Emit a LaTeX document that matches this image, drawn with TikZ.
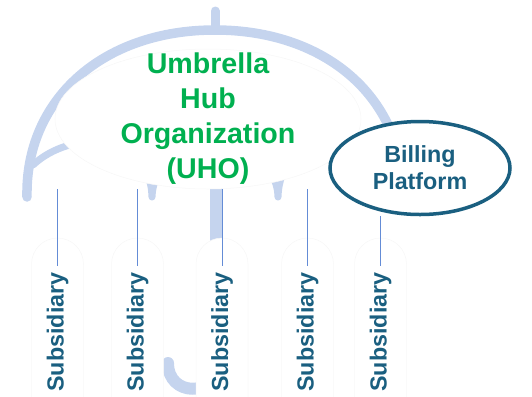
\documentclass[tikz,border=0pt]{standalone}
\usepackage{fontspec}
\setmainfont{Liberation Sans}
\usetikzlibrary{shapes}
\definecolor{umbrellablue}{RGB}{197,212,238}
\definecolor{hubgreen}{RGB}{0,176,80}
\definecolor{tealdark}{RGB}{26,95,128}
\definecolor{linkblue}{RGB}{100,140,214}
\begin{document}
\begin{tikzpicture}[x=1bp,y=-1bp,
    umbrellastyle/.style={draw=umbrellablue,line cap=round,line join=round},
    hubstyle/.style={ellipse,fill=white,draw=black!3,line width=0.5bp,minimum width=306bp,minimum height=140bp,inner sep=-25bp,text=hubgreen,align=center,font=\fontsize{28.6bp}{35bp}\selectfont\bfseries},
    billstyle/.style={ellipse,fill=white,draw=tealdark,line width=3.5bp,minimum width=180bp,minimum height=93bp,inner sep=0pt,text=tealdark,align=center,font=\fontsize{23.3bp}{27bp}\selectfont\bfseries},
    subbox/.style={fill=white,draw=black!3,line width=0.5bp,rounded corners=26bp},
    subsidiary/.style={rotate=90,inner sep=6bp,text=tealdark,font=\fontsize{23.3bp}{27bp}\selectfont\bfseries},
    link/.style={draw=linkblue,line width=0.9bp}]

       \useasboundingbox (0,0) rectangle (532,396);

       \draw [umbrellastyle,line width=9.5bp] (27,197) .. controls (25,100) and (102,30) .. (215,30)
             .. controls (328,30) and (405,100) .. (403,197);
       \draw [umbrellastyle,line width=9bp] (215,29) -- (215,11);
       \draw [umbrellastyle,line width=7bp] (33,165) .. controls (70,130) and (150,130) .. (152,197)
             .. controls (154,130) and (276,130) .. (278,197)
             .. controls (280,130) and (360,130) .. (397,165);
       \draw [umbrellastyle,line width=12bp] (216,150) -- (216,365) .. controls (216,397) and (168,397) .. (168,363);

       \node [hubstyle] (uho) at (208,119) {Umbrella\\Hub\\Organization\\(UHO)};

       \draw [subbox] (31.5,238) rectangle (83.5,430);
       \draw [subbox] (111.5,238) rectangle (163.5,430);
       \draw [subbox] (196,238) rectangle (248,430);
       \draw [subbox] (281.5,238) rectangle (333.5,430);
       \draw [subbox] (354.5,238) rectangle (406.5,430);

       \node [billstyle] (bill) at (420,168) {Billing\\Platform};

       \node [subsidiary] (s1) at (57.5,332) {Subsidiary};
       \node [subsidiary] (s2) at (137.5,332) {Subsidiary};
       \node [subsidiary] (s3) at (222,332) {Subsidiary};
       \node [subsidiary] (s4) at (307.5,332) {Subsidiary};
       \node [subsidiary] (s5) at (380.5,332) {Subsidiary};

       \draw [link] (uho.south -| s1.east) -- (s1.east);
       \draw [link] (uho.south -| s2.east) -- (s2.east);
       \draw [link] (uho.south -| s3.east) -- (s3.east);
       \draw [link] (uho.south -| s4.east) -- (s4.east);
       \draw [link] (bill.south -| s5.east) -- (s5.east);
\end{tikzpicture}
\end{document}
